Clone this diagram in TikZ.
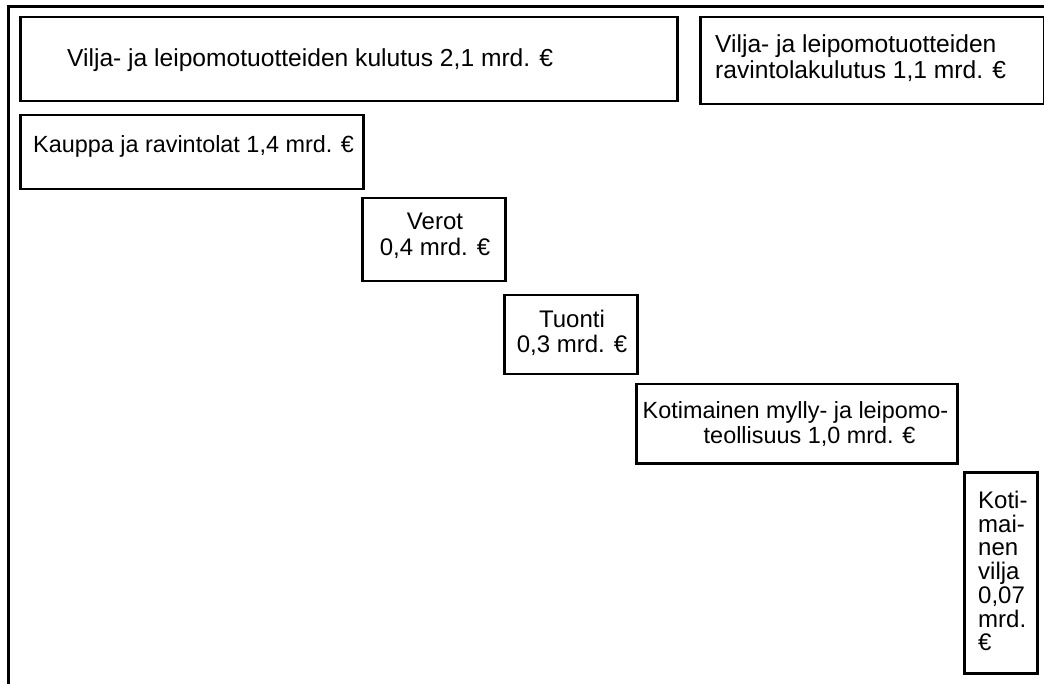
\documentclass[tikz,border=0pt]{standalone}
\usepackage{fontspec}
\setmainfont{Liberation Sans}
\begin{document}
\begin{tikzpicture}[x=1pt,y=-1pt,
  box/.style={draw=black, line width=2.5pt, rectangle, inner sep=0pt, anchor=north west},
  txt/.style={inner sep=0pt, font=\fontsize{24}{25.5}\selectfont},
  small/.style={inner sep=0pt, font=\fontsize{23.4}{25}\selectfont},
  narrow/.style={inner sep=0pt, font=\fontsize{24}{23.7}\selectfont},
  frame/.style={line width=3pt}]
\useasboundingbox (0,0) rectangle (1044,684);
% frame
\coordinate (fb) at (8,690);
\coordinate (fc) at (8,7);
\coordinate (fr) at (1050,7);
\draw[frame] (fb) -- (fc) -- (fr);
% boxes
\node[box, minimum width=657pt, minimum height=84pt] (b1) at (19,16) {};
\node[box, minimum width=344pt, minimum height=87pt] (b2) at (699,16) {};
\node[box, minimum width=343pt, minimum height=74pt] (b3) at (19,114) {};
\node[box, minimum width=143pt, minimum height=83pt] (b4) at (361,197) {};
\node[box, minimum width=133pt, minimum height=79pt] (b5) at (503,294) {};
\node[box, minimum width=321pt, minimum height=79pt] (b6) at (635,383) {};
\node[box, minimum width=73pt, minimum height=201pt] (b7) at (963,471) {};
% texts
\node[txt, anchor=west, font=\fontsize{24.6}{26}\selectfont] (t1) at (67,60) {Vilja- ja leipomotuotteiden kulutus 2,1 mrd. €};
\node[txt, anchor=west, align=left, font=\fontsize{24.6}{26}\selectfont] (t2) at (715,58) {Vilja- ja leipomotuotteiden\\ravintolakulutus 1,1 mrd. €};
\node[small, anchor=west] (t3) at (33,146) {Kauppa ja ravintolat 1,4 mrd. €};
\node[txt, align=center] (t4) at (435,236) {Verot\\0,4 mrd. €};
\node[txt, align=center] (t5) at (572,333) {Tuonti\\0,3 mrd. €};
\node[small, align=right] (t6) at (795.5,424) {Kotimainen mylly- ja leipomo-\\teollisuus 1,0 mrd. €\hspace*{33pt}};
\node[narrow, anchor=north west, align=left] (t7) at (978,491) {Koti-\\mai-\\nen\\vilja\\0,07\\mrd.\\€};
\end{tikzpicture}
\end{document}
